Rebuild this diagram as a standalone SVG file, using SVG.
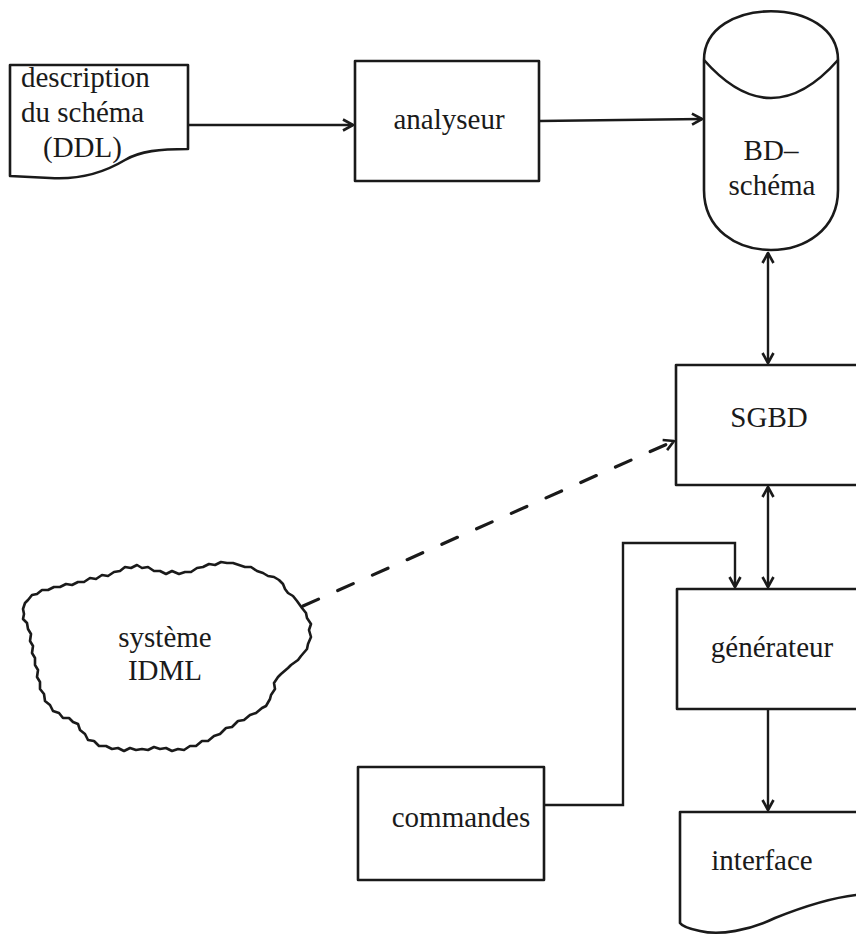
<svg xmlns="http://www.w3.org/2000/svg" width="856" height="935" viewBox="0 0 856 935">
<style>
.s{fill:#fff;stroke:#1a1a1a;stroke-width:2.6;stroke-linejoin:round}
.c{fill:none;stroke:#1a1a1a;stroke-width:2.4}
.t{font-family:"Liberation Serif","Times New Roman",serif;font-size:29px;fill:#1a1a1a}
.m{text-anchor:middle}
</style>
<defs>
<marker id="ah" viewBox="0 0 14 14" refX="12" refY="7" markerWidth="14" markerHeight="14" orient="auto-start-reverse" markerUnits="userSpaceOnUse">
<path d="M2,1.5 L12,7 L2,12.5" fill="none" stroke="#1a1a1a" stroke-width="2.6" stroke-linejoin="round"/>
</marker>
</defs>
<rect width="856" height="935" fill="#fff"/>
<g id="connectors">
<line class="c" x1="188" y1="125" x2="353" y2="125" marker-end="url(#ah)"/>
<line class="c" x1="539" y1="121" x2="702" y2="119" marker-end="url(#ah)"/>
<line class="c" x1="768" y1="253" x2="768" y2="363" marker-start="url(#ah)" marker-end="url(#ah)"/>
<line class="c" x1="768" y1="487" x2="768" y2="587" marker-start="url(#ah)" marker-end="url(#ah)"/>
<line class="c" x1="768" y1="709" x2="768" y2="810" marker-end="url(#ah)"/>
<polyline class="c" points="545,805 623,805 623,543 735,543 735,587" marker-end="url(#ah)"/>
<line x1="303" y1="606" x2="674" y2="441" stroke="#1a1a1a" stroke-width="3.2" stroke-dasharray="17 21" stroke-linecap="round" marker-end="url(#ah)"/>
</g>
<g id="description">
<path class="s" d="M10,65 L188,65 L188,149 C160,149 140,151 125,160 C105,172 80,180 50,178 L10,176 Z"/>
<text class="t" x="21" y="87">description</text>
<text class="t" x="21" y="122">du schéma</text>
<text class="t" x="43" y="157">(DDL)</text>
</g>
<g id="analyseur">
<rect class="s" x="355" y="61" width="184" height="120"/>
<text class="t m" x="449" y="129">analyseur</text>
</g>
<g id="bd-schema">
<path class="s" d="M704,60 C704,-5 838,-5 838,60 L838,190 C838,270 704,270 704,190 Z"/>
<path class="c" style="stroke-width:2.6" d="M704,60 Q771,136 838,60"/>
<text class="t m" x="771" y="160">BD–</text>
<text class="t m" x="772" y="195">schéma</text>
</g>
<g id="sgbd">
<rect class="s" x="676" y="365" width="190" height="120"/>
<text class="t m" x="769" y="427">SGBD</text>
</g>
<g id="generateur">
<rect class="s" x="677" y="589" width="190" height="120"/>
<text class="t m" x="772" y="657">générateur</text>
</g>
<g id="interface">
<path class="s" d="M680,812 L866,812 L866,895 L856,895 C830,898 800,908 775,918 C750,930 720,936 700,931 C690,929 682,926 680,923 Z"/>
<text class="t m" x="762" y="870">interface</text>
</g>
<g id="commandes">
<rect class="s" x="358" y="767" width="186" height="113"/>
<text class="t m" x="461" y="827">commandes</text>
</g>
<g id="idml">
<path class="s" d="M302,608 L297,601 293,596 288,593 285,589 283,584 279,580 274,577 268,576 263,573 257,571 251,567 245,567 239,565 233,563 227,563 221,562 215,565 209,564 203,567 197,568 191,572 185,572 179,574 172,571 166,574 160,571 154,571 148,567 142,568 137,565 131,568 125,567 120,571 114,572 108,576 102,575 96,579 90,578 84,582 78,582 72,585 66,584 60,587 54,587 48,590 42,590 37,594 32,595 28,600 25,603 23,609 24,614 23,619 27,623 28,629 31,634 30,641 33,646 32,653 35,658 35,665 38,670 37,677 40,682 40,689 44,694 45,701 50,705 53,711 59,713 63,718 69,718 73,722 78,724 80,730 85,734 88,740 94,741 99,746 106,746 112,749 118,748 124,751 130,748 136,750 142,749 148,750 154,747 160,749 166,748 172,751 178,749 184,750 190,746 196,746 202,741 208,741 214,736 220,734 226,728 232,727 238,721 244,720 250,715 256,713 262,708 266,706 270,699 271,695 275,689 274,683 278,677 281,674 288,668 291,665 298,660 301,656 307,649 308,644 311,637 309,630 311,624 307,618 306,613 Z"/>
<text class="t m" x="165" y="647">système</text>
<text class="t m" x="165" y="680">IDML</text>
</g>
</svg>
